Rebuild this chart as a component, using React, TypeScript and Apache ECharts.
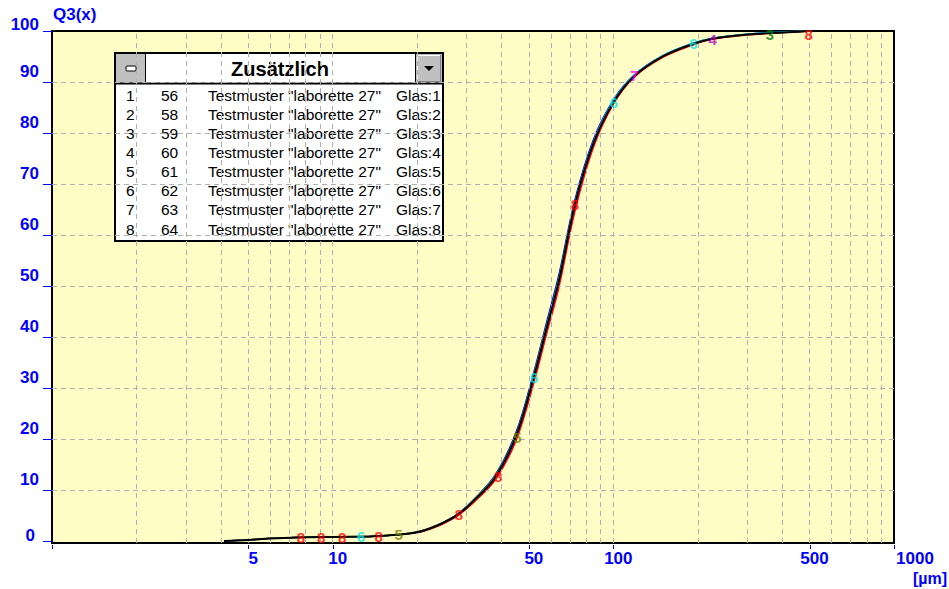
import React, { useEffect, useRef } from "react";
import * as echarts from "echarts";

// particle sizes (µm) of the measurement classes
const sizes = [4.1, 5, 6, 7.5, 10, 14, 17, 19, 21, 24, 28, 32, 38, 45, 52, 58, 64, 73, 85, 100, 118, 150, 193, 226, 300, 400, 500];

// Q3(x) cumulative values of the 8 samples
const q3Sample1 = [0, 0.2, 0.5, 0.7, 0.8, 0.9, 1.2, 1.5, 2.0, 3.2, 5.2, 8.0, 12.5, 20.5, 32.0, 42.0, 51.0, 66.0, 78.0, 86.0, 91.0, 95.0, 97.5, 98.5, 99.3, 99.7, 100];
const q3Sample2 = [0, 0.2, 0.5, 0.7, 0.8, 0.9, 1.2, 1.5, 2.1, 3.3, 5.4, 8.3, 13.0, 21.3, 33.0, 43.2, 52.3, 67.0, 78.8, 86.5, 91.3, 95.2, 97.6, 98.6, 99.4, 99.8, 100];
const q3Sample3 = [0, 0.2, 0.5, 0.7, 0.8, 0.9, 1.2, 1.5, 2.0, 3.2, 5.3, 8.1, 12.7, 20.8, 32.4, 42.5, 51.6, 66.4, 78.3, 86.2, 91.1, 95.1, 97.5, 98.5, 99.3, 99.7, 100];
const q3Sample4 = [0, 0.2, 0.5, 0.7, 0.8, 0.9, 1.2, 1.5, 2.0, 3.1, 5.1, 7.9, 12.3, 20.2, 31.6, 41.6, 50.6, 65.6, 77.7, 85.9, 91.0, 95.0, 97.4, 98.5, 99.3, 99.7, 100];
const q3Sample5 = [0, 0.2, 0.5, 0.7, 0.8, 0.9, 1.3, 1.6, 2.1, 3.3, 5.3, 8.2, 12.8, 20.9, 32.5, 42.6, 51.5, 66.2, 78.2, 86.1, 91.1, 95.1, 97.5, 98.5, 99.3, 99.7, 100];
const q3Sample6 = [0, 0.2, 0.5, 0.7, 0.8, 0.9, 1.2, 1.5, 2.0, 3.2, 5.2, 8.0, 12.6, 20.6, 32.2, 42.3, 51.3, 66.3, 78.3, 86.3, 91.2, 95.2, 97.6, 98.6, 99.4, 99.8, 100];
const q3Sample7 = [0, 0.2, 0.5, 0.7, 0.8, 0.9, 1.2, 1.5, 1.9, 3.1, 5.1, 7.8, 12.2, 20.0, 31.3, 41.3, 50.3, 65.3, 77.6, 85.8, 91.0, 95.0, 97.4, 98.4, 99.3, 99.7, 100];
const q3Sample8 = [0, 0.2, 0.5, 0.7, 0.8, 0.9, 1.2, 1.5, 1.9, 3.0, 5.0, 7.7, 12.0, 19.6, 30.8, 40.8, 49.7, 64.6, 77.2, 85.6, 90.8, 94.8, 97.3, 98.4, 99.2, 99.7, 100];
const q3Samples = [q3Sample1, q3Sample2, q3Sample3, q3Sample4, q3Sample5, q3Sample6, q3Sample7, q3Sample8];

const sampleNumbers = ["1", "2", "3", "4", "5", "6", "7", "8"];
const sampleIds = ["56", "58", "59", "60", "61", "62", "63", "64"];
const sampleNames = [
  'Testmuster "laborette 27"', 'Testmuster "laborette 27"', 'Testmuster "laborette 27"', 'Testmuster "laborette 27"',
  'Testmuster "laborette 27"', 'Testmuster "laborette 27"', 'Testmuster "laborette 27"', 'Testmuster "laborette 27"',
];
const glasLabels = ["Glas:1·", "Glas:2·", "Glas:3·", "Glas:4·", "Glas:5·", "Glas:6·", "Glas:7·", "Glas:8·"];
const sampleColors = ["#000000", "#0000ff", "#008000", "#c000c0", "#808000", "#00e8e8", "#ff00ff", "#ff0000"];

// visible measuring-point markers (digit = sample number)
const markerX = [7.7, 9.1, 10.8, 12.6, 14.6, 17.2, 28.2, 38.9, 45.5, 52.2, 73, 100.5, 118.6, 193, 226, 361, 497];
const markerY = [0.7, 0.7, 0.7, 0.8, 0.8, 1.3, 5.2, 12.6, 20.3, 32, 66, 86, 91.2, 97.5, 98.4, 99.4, 99.4];
const markerSample = [8, 8, 8, 6, 8, 5, 8, 8, 5, 6, 8, 6, 7, 6, 4, 3, 8];

const yTicks = [0, 10, 20, 30, 40, 50, 60, 70, 80, 90, 100];
const xTickValues = [1, 5, 10, 50, 100, 500, 1000];
const xLabelValues = [5, 10, 50, 100, 500, 1000];
const xGridValues = [2, 3, 4, 5, 6, 7, 8, 9, 10, 20, 30, 40, 50, 60, 70, 80, 90, 100, 200, 300, 400, 500, 600, 700, 800, 900];
const yGridValues = [10, 20, 30, 40, 50, 60, 70, 80, 90];

const FONT = "'Liberation Sans', Arial, sans-serif";
const BLUE = "#0000ff";
const GRID_GRAY = "#b0b0b0";
const PLOT_BG = "#fffcc6";

export default function App() {
  const ref = useRef<HTMLDivElement>(null);

  useEffect(() => {
    if (!ref.current) return;
    const chart = echarts.init(ref.current, null, { renderer: "svg" });

    const curveSeries: any[] = q3Samples.map((ys, i) => ({
      type: "line",
      name: sampleNumbers[i],
      data: sizes.map((x, j) => [x, ys[j]]),
      showSymbol: false,
      smooth: 0.35,
      silent: true,
      z: i === 0 ? 6 : 3 + (i % 3) * 0.1,
      lineStyle: { color: sampleColors[i], width: i === 0 ? 2 : 1.3 },
    }));

    const gridLineStyle = { color: GRID_GRAY, type: [5, 4], width: 1 };
    const gridSeries: any = {
      type: "scatter",
      data: [[1, -0.4]],
      symbolSize: 0,
      silent: true,
      z: 1,
      itemStyle: { color: GRID_GRAY },
      markLine: {
        silent: true,
        symbol: ["none", "none"],
        label: { show: false },
        lineStyle: gridLineStyle,
        emphasis: { disabled: true },
        data: [
          ...xGridValues.map((v) => ({ xAxis: v, lineStyle: gridLineStyle })),
          ...yGridValues.map((v) => ({ yAxis: v, lineStyle: gridLineStyle })),
        ],
      },
    };

    const markerSeries: any = {
      type: "scatter",
      silent: true,
      z: 10,
      symbolSize: 1,
      itemStyle: { color: "rgba(0,0,0,0)" },
      data: markerX.map((x, i) => ({
        value: [x, markerY[i]],
        label: { color: sampleColors[markerSample[i] - 1] },
      })),
      label: {
        show: true,
        position: "inside",
        formatter: (p: any) => String(markerSample[p.dataIndex]),
        fontSize: 15,
        fontWeight: "bold",
        fontFamily: FONT,
      },
    };

    chart.setOption({
      animation: false,
      backgroundColor: "#ffffff",
      grid: {
        left: 52,
        right: 55,
        top: 31,
        bottom: 46,
        show: true,
        backgroundColor: PLOT_BG,
        borderColor: "#000000",
        borderWidth: 2,
      },
      xAxis: {
        type: "log",
        logBase: 10,
        min: 1,
        max: 1000,
        axisLine: { show: false },
        axisTick: { show: false },
        axisLabel: { show: false },
        splitLine: { show: false },
      },
      yAxis: {
        type: "value",
        min: -0.4,
        max: 100,
        axisLine: { show: false },
        axisTick: { show: true, customValues: yTicks, length: 9, lineStyle: { color: BLUE, width: 1 } },
        axisLabel: { show: false },
        splitLine: { show: false },
      },
      series: [gridSeries, ...curveSeries, markerSeries],
    });

    const baseY = chart.convertToPixel({ yAxisIndex: 0 }, -0.4) as number;
    const axisGraphics: any[] = [];
    xTickValues.forEach((v) => {
      const px = Math.round(chart.convertToPixel({ xAxisIndex: 0 }, v) as number) + 0.5;
      axisGraphics.push({
        type: "line",
        silent: true,
        shape: { x1: px, y1: baseY + 2, x2: px, y2: baseY + 6 },
        style: { stroke: BLUE, lineWidth: 1 },
      });
    });
    xLabelValues.forEach((v) => {
      const px = chart.convertToPixel({ xAxisIndex: 0 }, v) as number;
      axisGraphics.push({
        type: "text",
        silent: true,
        x: px + (v === 1000 ? 21 : 5),
        y: baseY + 7,
        style: {
          text: String(v),
          fill: BLUE,
          font: `bold 17px ${FONT}`,
          textAlign: "center",
          textVerticalAlign: "top",
        },
      });
    });
    yTicks.forEach((v) => {
      const py = chart.convertToPixel({ yAxisIndex: 0 }, v) as number;
      const lift = v === 0 ? 5 : v === 100 ? 7 : 10;
      axisGraphics.push({
        type: "text",
        silent: true,
        x: v === 0 ? 35 : 39,
        y: py - lift,
        style: {
          text: String(v),
          fill: BLUE,
          font: `bold 17px ${FONT}`,
          textAlign: "right",
          textVerticalAlign: "middle",
        },
      });
    });

    const legendLeft = 115;
    const legendTop = 53;
    const legendW = 328;
    const legendH = 188;
    const headerH = 30;
    const rowTop = 95;
    const rowStep = 19.15;
    const legendGraphics: any[] = [
      {
        type: "rect",
        silent: true,
        shape: { x: legendLeft, y: legendTop, width: legendW, height: legendH },
        style: { fill: "#ffffff", stroke: "#000000", lineWidth: 2 },
      },
      {
        type: "rect",
        silent: true,
        shape: { x: legendLeft + 1, y: legendTop + 1, width: 29, height: headerH - 1 },
        style: { fill: "#c0c0c0" },
      },
      {
        type: "rect",
        silent: true,
        shape: { x: legendLeft + 11, y: legendTop + 13, width: 10, height: 5, r: 1 },
        style: { fill: "#ffffff", stroke: "#000000", lineWidth: 1 },
      },
      {
        type: "line",
        silent: true,
        shape: { x1: legendLeft + 30.5, y1: legendTop, x2: legendLeft + 30.5, y2: legendTop + headerH },
        style: { stroke: "#000000", lineWidth: 1 },
      },
      {
        type: "rect",
        silent: true,
        shape: { x: legendLeft + legendW - 27, y: legendTop + 1, width: 26, height: headerH - 1 },
        style: { fill: "#c0c0c0" },
      },
      {
        type: "polyline",
        silent: true,
        shape: { points: [[legendLeft + legendW - 25.5, legendTop + headerH - 2], [legendLeft + legendW - 25.5, legendTop + 2.5], [legendLeft + legendW - 3, legendTop + 2.5]] },
        style: { stroke: "#ffffff", lineWidth: 1, fill: null },
      },
      {
        type: "polyline",
        silent: true,
        shape: { points: [[legendLeft + legendW - 25, legendTop + headerH - 1.5], [legendLeft + legendW - 2.5, legendTop + headerH - 1.5], [legendLeft + legendW - 2.5, legendTop + 2]] },
        style: { stroke: "#808080", lineWidth: 1, fill: null },
      },
      {
        type: "line",
        silent: true,
        shape: { x1: legendLeft + legendW - 27.5, y1: legendTop, x2: legendLeft + legendW - 27.5, y2: legendTop + headerH },
        style: { stroke: "#000000", lineWidth: 1 },
      },
      {
        type: "polygon",
        silent: true,
        shape: { points: [[legendLeft + legendW - 19, legendTop + 13], [legendLeft + legendW - 9, legendTop + 13], [legendLeft + legendW - 14, legendTop + 18]] },
        style: { fill: "#000000" },
      },
      {
        type: "line",
        silent: true,
        shape: { x1: legendLeft, y1: legendTop + headerH + 0.5, x2: legendLeft + legendW, y2: legendTop + headerH + 0.5 },
        style: { stroke: "#000000", lineWidth: 2 },
      },
      {
        type: "text",
        silent: true,
        x: 280,
        y: legendTop + 16,
        style: {
          text: "Zusätzlich",
          fill: "#000000",
          font: `bold 20px ${FONT}`,
          textAlign: "center",
          textVerticalAlign: "middle",
        },
      },
    ];
    sampleNumbers.forEach((n, i) => {
      const y = rowTop + rowStep * i;
      const cols: [string, number][] = [
        [n, 126],
        [sampleIds[i], 161],
        [sampleNames[i], 208],
        [glasLabels[i], 396],
      ];
      cols.forEach(([t, x]) => {
        legendGraphics.push({
          type: "text",
          silent: true,
          x,
          y,
          style: {
            text: t,
            fill: "#000000",
            font: `15.5px ${FONT}`,
            textAlign: "left",
            textVerticalAlign: "middle",
          },
        });
      });
    });
    // mask anything running past the right edge of the window
    legendGraphics.push({
      type: "rect",
      silent: true,
      shape: { x: legendLeft + legendW + 1, y: legendTop + headerH + 2, width: 4, height: legendH - headerH - 2 },
      style: { fill: PLOT_BG },
    });
    legendGraphics.push({
      type: "line",
      silent: true,
      shape: { x1: legendLeft + legendW, y1: legendTop, x2: legendLeft + legendW, y2: legendTop + legendH },
      style: { stroke: "#000000", lineWidth: 2 },
    });

    const titleGraphics: any[] = [
      {
        type: "text",
        silent: true,
        x: 53,
        y: 6,
        style: { text: "Q3(x)", fill: BLUE, font: `bold 17px ${FONT}`, textAlign: "left", textVerticalAlign: "top" },
      },
      {
        type: "text",
        silent: true,
        x: 930,
        y: 578,
        style: { text: "[µm]", fill: BLUE, font: `bold 16px ${FONT}`, textAlign: "center", textVerticalAlign: "middle" },
      },
    ];

    chart.setOption({ graphic: [...axisGraphics, ...legendGraphics, ...titleGraphics] });

    return () => chart.dispose();
  }, []);

  return (
    <div
      ref={ref}
      style={{ position: "absolute", left: 0, top: 0, width: 949, height: 589, background: "#ffffff" }}
    />
  );
}
